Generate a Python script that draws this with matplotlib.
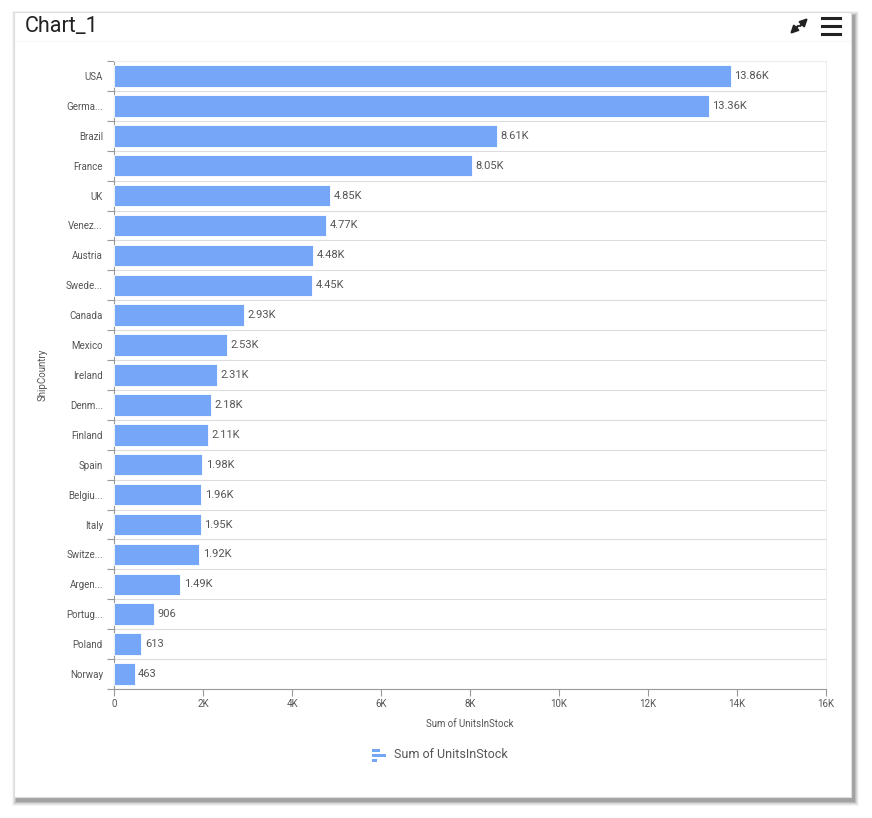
import matplotlib.pyplot as plt
import matplotlib.patches as mpatches
import numpy as np

plt.rcParams['font.family'] = ['Roboto', 'DejaVu Sans']

# Data
countries = ["USA", "Germa...", "Brazil", "France", "UK", "Venez...", "Austria",
             "Swede...", "Canada", "Mexico", "Ireland", "Denm...", "Finland",
             "Spain", "Belgiu...", "Italy", "Switze...", "Argen...", "Portug...",
             "Poland", "Norway"]
units_in_stock = [13860, 13360, 8610, 8050, 4850, 4770, 4480, 4450, 2930, 2530,
                  2310, 2180, 2110, 1980, 1960, 1950, 1920, 1490, 906, 613, 463]
x_ticks = [0, 2000, 4000, 6000, 8000, 10000, 12000, 14000, 16000]
x_tick_labels = ["0", "2K", "4K", "6K", "8K", "10K", "12K", "14K", "16K"]

bar_color = '#75a6f8'
text_color = '#555555'
W, H = 872, 818

fig = plt.figure(figsize=(W / 100, H / 100), dpi=100)
fig.patch.set_facecolor('white')

# card shadow + card
for i, a in enumerate([0.04, 0.06, 0.08, 0.10, 0.14]):
    off = 5 - i
    fig.patches.append(mpatches.Rectangle(((14 - off + 3) / W, 1 - (797 + off + 4) / H),
                                          (837 + 2 * off) / W, (785 + 2 * off) / H,
                                          transform=fig.transFigure, color='black',
                                          alpha=a, lw=0, zorder=0))
fig.patches.append(mpatches.Rectangle((14 / W, 1 - 797 / H), 837 / W, 785 / H,
                                      transform=fig.transFigure, facecolor='white',
                                      edgecolor='#dddddd', lw=0.8, zorder=1))
fig.lines.append(plt.Line2D([15 / W, 850 / W], [1 - 41 / H, 1 - 41 / H],
                            transform=fig.transFigure, color='#f5f5f5', lw=0.8, zorder=2))

fig.text(25 / W, 1 - 26 / H, "Chart_1", fontsize=15.5, color='#222222', va='center', ha='left')

# hamburger icon
for yy in [18, 26, 34]:
    fig.lines.append(plt.Line2D([822 / W, 840 / W], [1 - yy / H, 1 - yy / H],
                                transform=fig.transFigure, color='#222222', lw=2.2))
# expand icon
fig.patches.append(mpatches.FancyArrowPatch((800 / W, 1 - 26 / H), (808 / W, 1 - 18 / H),
                                            transform=fig.transFigure, arrowstyle='-|>',
                                            mutation_scale=11, color='#222222', lw=1.6,
                                            shrinkA=0, shrinkB=0))
fig.patches.append(mpatches.FancyArrowPatch((798 / W, 1 - 26 / H), (790 / W, 1 - 34 / H),
                                            transform=fig.transFigure, arrowstyle='-|>',
                                            mutation_scale=11, color='#222222', lw=1.6,
                                            shrinkA=0, shrinkB=0))

ax = fig.add_axes([114 / W, 1 - 689 / H, 712 / W, 628 / H])
ax.set_zorder(3)
y = np.arange(len(countries))
bars = ax.barh(y, units_in_stock, height=0.72, color=bar_color, edgecolor='white',
               linewidth=0.6, zorder=3)

for rect, v in zip(bars, units_in_stock):
    label = f"{v / 1000:.2f}K" if v >= 1000 else str(v)
    ax.annotate(label, (rect.get_width(), rect.get_y() + rect.get_height() / 2),
                xytext=(2.5, 0), textcoords='offset points', va='center', ha='left',
                fontsize=8, color=text_color, zorder=4)

ax.set_ylim(len(countries) - 0.5, -0.5)
ax.set_xlim(0, 16000)
ax.set_yticks(y)
ax.set_yticklabels(countries)
ax.set_yticks(np.arange(-0.5, len(countries)), minor=True)
ax.tick_params(axis='y', which='major', length=0, pad=8, labelsize=7, labelcolor=text_color)
ax.tick_params(axis='y', which='minor', length=5, color='#999999', width=0.8)
ax.set_xticks(x_ticks)
ax.set_xticklabels(x_tick_labels)
ax.tick_params(axis='x', length=5, color='#999999', width=0.8, labelsize=7,
               labelcolor=text_color, pad=2)
ax.grid(axis='y', which='minor', color='#dddddd', lw=0.8, zorder=0)
ax.grid(axis='y', which='major', visible=False)

for side in ['top', 'right']:
    ax.spines[side].set_color('#eeeeee')
    ax.spines[side].set_linewidth(0.8)
for side in ['left', 'bottom']:
    ax.spines[side].set_color('#999999')
    ax.spines[side].set_linewidth(0.8)

fig.text(470 / W, 1 - 724 / H, "Sum of UnitsInStock", fontsize=7, color=text_color,
         ha='center', va='center')
fig.text(43 / W, 1 - 375 / H, "ShipCountry", fontsize=7, color=text_color,
         ha='center', va='center', rotation=90)

# legend
for (x0, yy, ln) in [(372, 750, 8), (372, 755, 14), (372, 760, 5)]:
    fig.patches.append(mpatches.Rectangle((x0 / W, 1 - (yy + 1.5) / H), ln / W, 3 / H,
                                          transform=fig.transFigure, color=bar_color, lw=0,
                                          zorder=4))
fig.text(394 / W, 1 - 755 / H, "Sum of UnitsInStock", fontsize=9, color=text_color,
         ha='left', va='center')

fig.savefig('out.png', dpi=100, facecolor='white')
